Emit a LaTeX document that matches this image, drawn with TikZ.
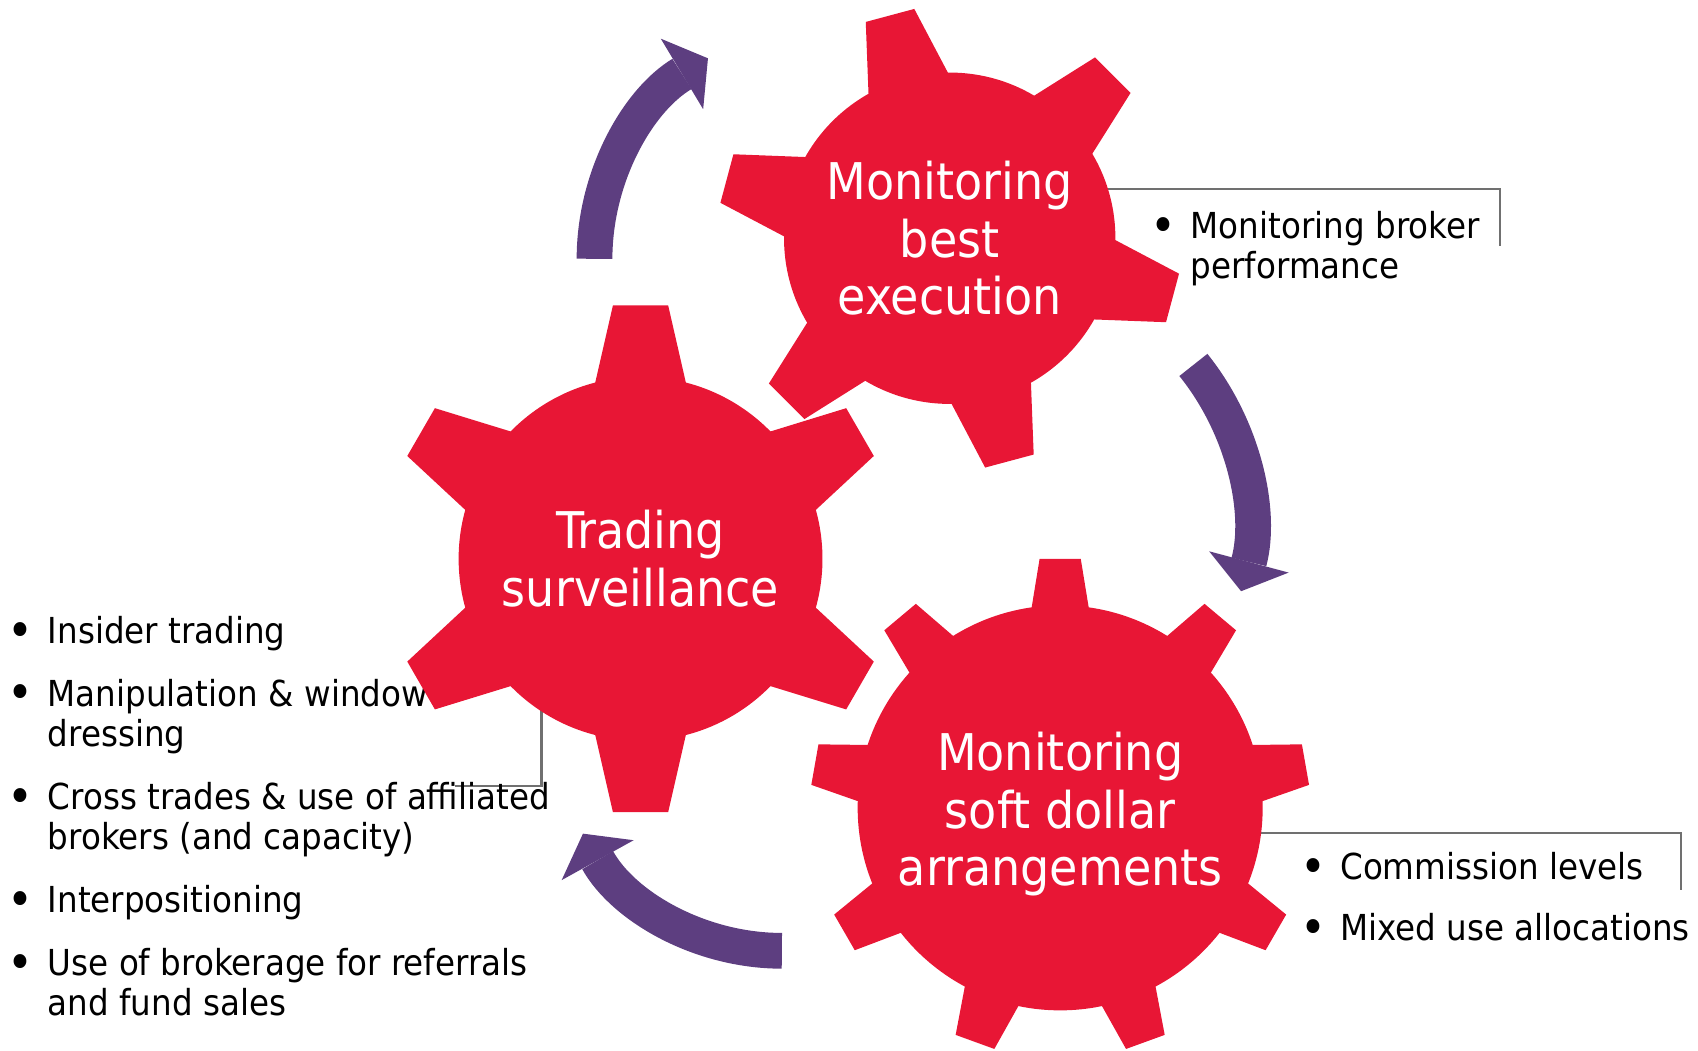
\documentclass[tikz,border=0pt]{standalone}
\usepackage{fontspec}
\setmainfont{DejaVu Sans}[FakeStretch=0.91]
\usepackage{graphicx}
\usepackage{tikz}
\usetikzlibrary{arrows.meta}
\definecolor{gearred}{HTML}{E81635}
\definecolor{arrowpurple}{HTML}{5D3E80}
\definecolor{bracketgray}{HTML}{707070}
\newcommand{\bul}{\makebox[3.7mm][l]{\raisebox{-0.11em}{\scalebox{1.35}{\textbullet}}}}
% centre, body radius, root radius, root half width, tip radius, tip half width, teeth, first tooth angle
\newcommand{\drawgear}[8]{
	\fill[gearred] (#1) circle (#2);
	\foreach \k in {1,...,#7}
		\fill[gearred, shift={(#1)}, rotate=#8+(\k-1)*360/#7]
			(0,-#4) -- (#3,-#4) -- (#5,-#6) -- (#5,#6) -- (#3,#4) -- (0,#4) -- cycle;
}

\begin{document}
\begin{tikzpicture}[
	gearlabel/.style={text=white, align=center, font=\fontsize{13.3}{15.1}\selectfont},
	bullets/.style={anchor=base west, inner sep=0pt, font=\fontsize{9.4}{10.6}\selectfont},
	bracket/.style={draw=bracketgray, line width=0.6pt},
	flow/.style={draw=arrowpurple, line width=3.3mm, -{Triangle[width=7.6mm, length=2.8mm, line width=0pt]}}
]
\useasboundingbox (0,0) rectangle (15.68,-9.70);
\coordinate (gearA) at (8.77,-2.20); % best execution
\coordinate (gearB) at (5.915,-5.16); % trading surveillance
\coordinate (gearC) at (9.79,-7.46); % soft dollars

% brackets out to the lists
\coordinate (cornerA) at (13.85,-1.745);
\coordinate (cornerB) at (5.00,-7.26);
\coordinate (cornerC) at (15.52,-7.69);
\draw[bracket] (gearA |- cornerA) -- (cornerA) -- ++(0,-0.53);
\draw[bracket] (gearB -| cornerB) -- (cornerB) -- ++(-0.80,0);
\draw[bracket] (gearC |- cornerC) -- (cornerC) -- ++(0,-0.53);

% lists
\node[bullets] (listA) at (10.62,-2.20) {\begin{tabular}[t]{@{}l@{}l@{}}
	\bul & Monitoring broker\\
	 & performance
\end{tabular}};
\node[bullets] (listB) at (0.065,-5.94) {\begin{tabular}[t]{@{}l@{}l@{}}
	\bul & Insider trading\\[5.9pt]
	\bul & Manipulation \& window\\
	 & dressing\\[5.9pt]
	\bul & Cross trades \& use of affiliated\\
	 & brokers (and capacity)\\[5.9pt]
	\bul & Interpositioning\\[5.9pt]
	\bul & Use of brokerage for referrals\\
	 & and fund sales
\end{tabular}};
\node[bullets] (listC) at (12.00,-8.12) {\begin{tabular}[t]{@{}l@{}l@{}}
	\bul & Commission levels\\[5.6pt]
	\bul & Mixed use allocations
\end{tabular}};

% gears
\drawgear{gearA}{1.53}{1.47}{0.382}{2.13}{0.232}{6}{-15}
\drawgear{gearB}{1.68}{1.62}{0.42}{2.34}{0.255}{6}{90}
\drawgear{gearC}{1.87}{1.81}{0.27}{2.30}{0.19}{9}{90}
\node[gearlabel] (textA) at (gearA) {Monitoring\\best\\execution};
\node[gearlabel] (textB) at (gearB) {Trading\\surveillance};
\node[gearlabel] (textC) at ([yshift=-0.06cm]gearC) {Monitoring\\soft dollar\\arrangements};

% cycle arrows
\coordinate (tailA) at (5.49,-2.39);
\coordinate (tailB) at (11.02,-3.37);
\coordinate (tailC) at (7.22,-8.78);
\draw[flow] (tailA) arc[start angle=180, end angle=121, radius=2.16];
\draw[flow] (tailB) arc[start angle=38.8, end angle=-15, radius=2.36];
\draw[flow] (tailC) arc[start angle=-90, end angle=-151, radius=2.10];
\end{tikzpicture}
\end{document}
